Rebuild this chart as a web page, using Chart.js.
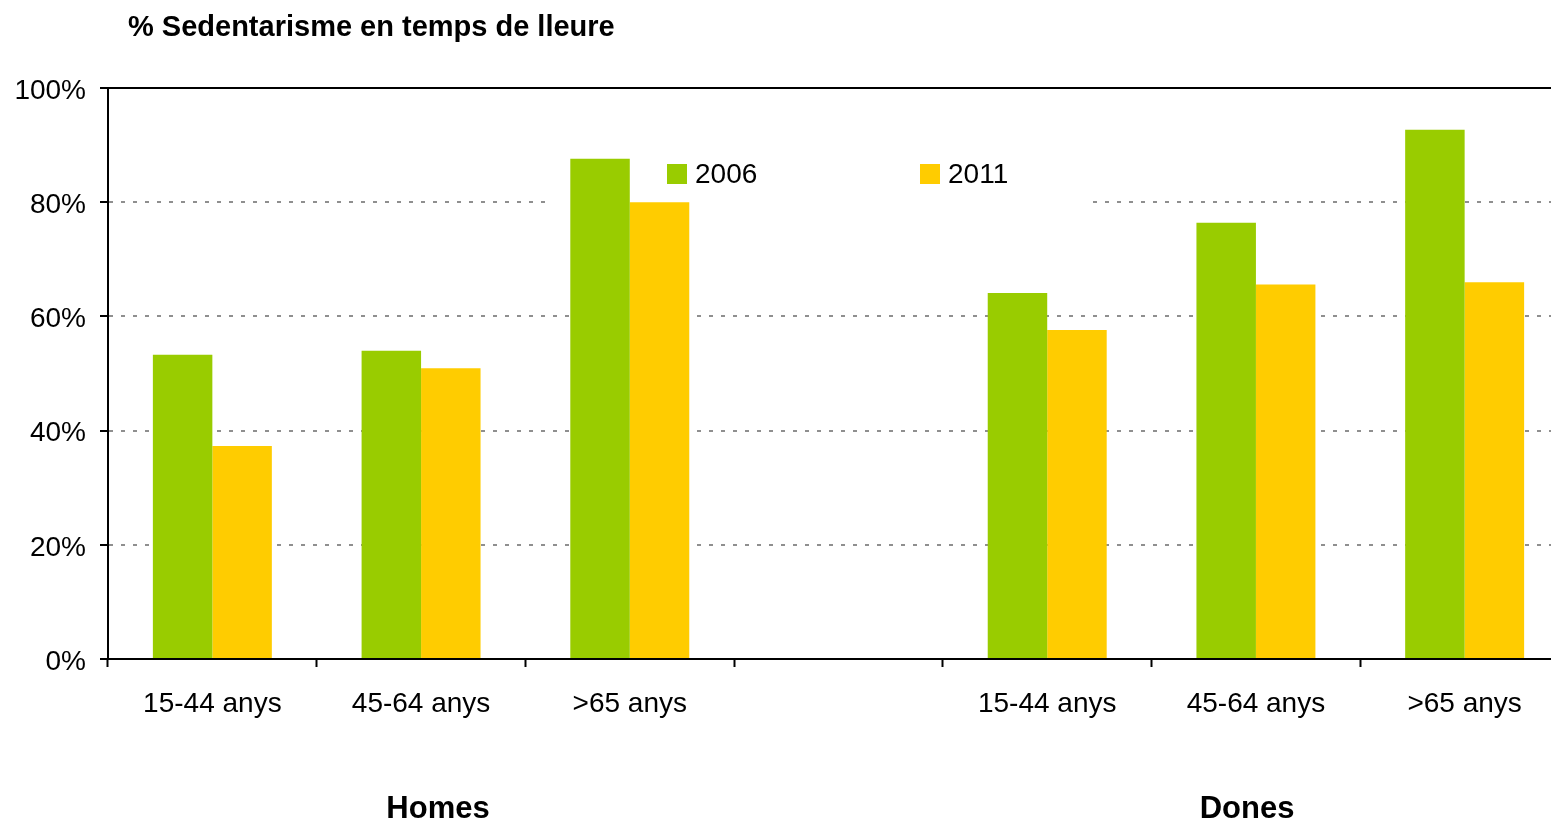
<!DOCTYPE html>
<html>
<head>
<meta charset="utf-8">
<script src="https://cdn.jsdelivr.net/npm/chart.js@4/dist/chart.umd.min.js"></script>
<style>
  html, body { margin: 0; padding: 0; background: #fff; overflow: hidden; }
  #wrap { width: 1570px; height: 823px; }
</style>
</head>
<body>
<div id="wrap"><canvas id="c" width="1570" height="823"></canvas></div>
<script>
const chartTitle = '% Sedentarisme en temps de lleure';
const categories = ['15-44 anys', '45-64 anys', '>65 anys', '', '15-44 anys', '45-64 anys', '>65 anys'];
const groupLabels = ['Homes', 'Dones'];
const seriesNames = ['2006', '2011'];
const values2006 = [53.3, 54.0, 87.6, null, 64.1, 76.4, 92.7];
const values2011 = [37.3, 50.9, 80.0, null, 57.6, 65.6, 66.0];
const yTicks = [0, 20, 40, 60, 80, 100];

const FONT = "'Liberation Sans', Arial, Helvetica, sans-serif";
const GREEN = '#99CC00';
const YELLOW = '#FFCC00';

const overlay = {
  id: 'overlay',
  beforeDatasetsDraw(chart) {
    const a = chart.chartArea;
    const ctx = chart.ctx;
    const w = a.right - a.left;
    const x0 = a.left + (545 - 108) / 1461 * w;
    const x1 = a.left + (1088 - 108) / 1461 * w;
    ctx.save();
    ctx.fillStyle = '#fff';
    ctx.fillRect(x0, a.top + 60, x1 - x0, 62);
    ctx.restore();
  },
  afterDraw(chart) {
    const a = chart.chartArea;
    const ctx = chart.ctx;
    const w = a.right - a.left;
    const ds = chart.data.datasets;
    ctx.save();
    // top border
    ctx.strokeStyle = '#000';
    ctx.lineWidth = 2;
    ctx.beginPath();
    ctx.moveTo(a.left - 1, a.top);
    ctx.lineTo(a.right, a.top);
    ctx.stroke();
    // legend
    ctx.font = '28px ' + FONT;
    ctx.textBaseline = 'middle';
    ctx.textAlign = 'left';
    const legX = [a.left + (667 - 108) / 1461 * w, a.left + (920 - 108) / 1461 * w];
    const legY = a.top + 76;
    ds.forEach((d, i) => {
      ctx.fillStyle = d.backgroundColor;
      ctx.fillRect(legX[i], legY, 20, 20);
      ctx.fillStyle = '#000';
      ctx.fillText(d.label, legX[i] + 28, legY + 11);
    });
    // title
    ctx.font = 'bold 29px ' + FONT;
    ctx.textBaseline = 'alphabetic';
    ctx.fillText(chartTitle, 128, 36);
    // group labels
    ctx.font = 'bold 31px ' + FONT;
    ctx.textAlign = 'center';
    ctx.fillText(groupLabels[0], 438, 818);
    ctx.fillText(groupLabels[1], 1247, 818);
    ctx.restore();
  }
};

new Chart(document.getElementById('c'), {
  type: 'bar',
  data: {
    labels: categories,
    datasets: [
      { label: seriesNames[0], data: values2006, backgroundColor: GREEN },
      { label: seriesNames[1], data: values2011, backgroundColor: YELLOW }
    ]
  },
  options: {
    responsive: false,
    animation: false,
    devicePixelRatio: 1,
    layout: { padding: { top: 88, right: 1, bottom: 0, left: 0 } },
    plugins: { legend: { display: false }, title: { display: false }, tooltip: { enabled: false } },
    datasets: { bar: { categoryPercentage: 0.57, barPercentage: 1.0 } },
    scales: {
      x: {
        type: 'category',
        afterFit(s) { s.height = 164; },
        grid: { offset: true, drawOnChartArea: false, drawTicks: true, tickLength: 8, tickColor: '#000', tickWidth: 2, color: '#000' },
        border: { display: true, color: '#000', width: 2 },
        ticks: { color: '#000', font: { family: FONT, size: 28 }, padding: 20, maxRotation: 0, autoSkip: false }
      },
      y: {
        min: 0, max: 100,
        afterFit(s) { s.width = 108; },
        afterBuildTicks(s) { s.ticks = yTicks.map(v => ({ value: v })); },
        grid: { color: '#8f8f8f', lineWidth: 2, drawTicks: true, tickLength: 8, tickColor: '#000', tickWidth: 2, tickBorderDash: [] },
        border: { display: true, color: '#000', width: 2, dash: [4, 8] },
        ticks: { color: '#000', font: { family: FONT, size: 28 }, padding: 14, labelOffset: 3, callback: v => v + '%' }
      }
    }
  },
  plugins: [overlay]
});
</script>
</body>
</html>
